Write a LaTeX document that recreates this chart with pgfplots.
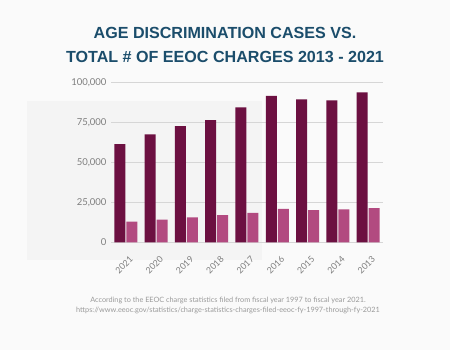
\documentclass[border=0pt]{standalone}
\usepackage{fontspec}
\setmainfont{Lato}
\newfontfamily\titlefont{Liberation Sans}
\usepackage{pgfplots}
\pgfplotsset{compat=1.18}
\definecolor{bgc}{HTML}{FAFAFA}
\definecolor{panel}{HTML}{F4F4F4}
\definecolor{darkbar}{RGB}{108,16,65}
\definecolor{lightbar}{RGB}{178,74,128}
\definecolor{titlec}{HTML}{1B4D6B}
\definecolor{tickc}{HTML}{7E7E7E}
\definecolor{footc}{HTML}{9A9A9A}
\definecolor{gridc}{HTML}{D6D6D6}
\begin{document}
\begin{tikzpicture}[x=1pt,y=1pt]
\fill[bgc] (0,0) rectangle (450,350);
\fill[panel] (27,90) rectangle (262,249);
\node[anchor=base,text=titlec,font=\titlefont\bfseries\fontsize{16.1}{19}\selectfont] at (225,311) {AGE DISCRIMINATION CASES VS.};
\node[anchor=base,text=titlec,font=\titlefont\bfseries\fontsize{16.1}{19}\selectfont] at (225,287) {TOTAL \# OF EEOC CHARGES 2013 - 2021};
\node[anchor=base,text=footc,font=\fontsize{7.3}{9}\selectfont] at (228,47.5) {According to the EEOC charge statistics filed from fiscal year 1997 to fiscal year 2021.};
\node[anchor=base,text=footc,font=\fontsize{7.3}{9}\selectfont] at (228,37) {https://www.eeoc.gov/statistics/charge-statistics-charges-filed-eeoc-fy-1997-through-fy-2021};
\begin{axis}[
  at={(111pt,107.7pt)}, anchor=south west,
  scale only axis, width=272pt, height=160pt,
  xmin=-0.49, xmax=8.49, ymin=0, ymax=100000,
  scaled y ticks=false,
  axis line style={draw=none},
  major tick length=0,
  ytick={0,25000,50000,75000,100000},
  yticklabels={0,{25,000},{50,000},{75,000},{100,000}},
  ymajorgrids, grid style={gridc, line width=0.7pt},
  xtick={0,...,8},
  xticklabels={2021,2020,2019,2018,2017,2016,2015,2014,2013},
  tick label style={text=tickc, font=\fontsize{9.5}{11}\selectfont},
  yticklabel style={xshift=-1pt},
  xticklabel style={rotate=45, anchor=north east, xshift=-3.5pt, yshift=-8pt, font=\fontsize{8.8}{10}\selectfont},
  /pgf/number format/assume math mode=true,
  bar width=11pt,
  clip=false,
]
\addplot[ybar, bar shift=-6pt, fill=darkbar, draw=none] coordinates {
(0,61331) (1,67448) (2,72675) (3,76418) (4,84254) (5,91503) (6,89385) (7,88778) (8,93727)};
\addplot[ybar, bar shift=6pt, fill=lightbar, draw=none] coordinates {
(0,12965) (1,14183) (2,15573) (3,16911) (4,18376) (5,20857) (6,20144) (7,20588) (8,21396)};
\end{axis}
\end{tikzpicture}
\end{document}
